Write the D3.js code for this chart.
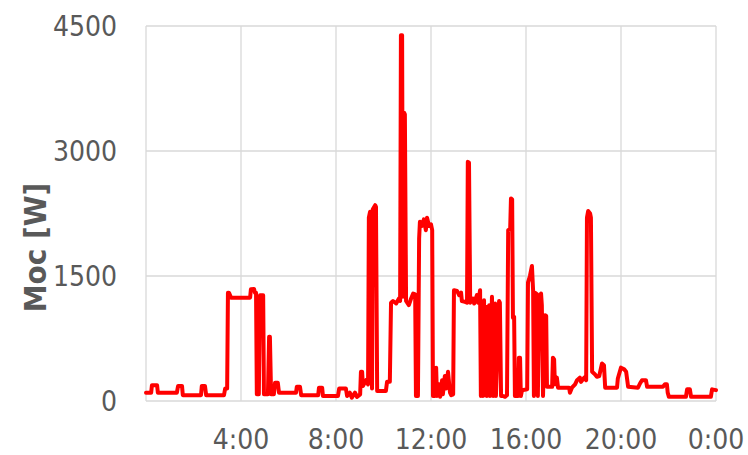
<!DOCTYPE html>
<html>
<head>
<meta charset="utf-8">
<script src="https://cdn.jsdelivr.net/npm/d3@7"></script>
<style>
  body { margin: 0; background: #fff; }
  svg text { font-family: 'DejaVu Sans Condensed', 'Liberation Sans', sans-serif; fill: #595959; }
</style>
</head>
<body>
<svg width="748" height="455"></svg>
<script>
// minutes since midnight
const minutes = [
  0, 13, 15, 28, 30, 78, 81, 91, 93, 139, 141, 149, 152, 197, 200, 205, 207, 210, 215,
  263, 265, 273, 275, 278, 280, 285, 288, 296, 298, 308, 311, 313, 316, 323, 326, 333,
  336, 379, 381, 389, 392, 435, 437, 445, 447, 480, 485, 488, 505, 508, 515, 520, 528,
  533, 541, 543, 546, 548, 556, 561, 563, 566, 568, 571, 573, 579, 581, 584, 606, 609,
  616, 619, 624, 632, 639, 642, 644, 647, 649, 652, 654, 657, 664, 669, 675, 680, 682,
  687, 690, 692, 697, 702, 707, 710, 715, 720, 723, 725, 730, 733, 735, 740, 743, 748,
  750, 755, 758, 763, 768, 771, 776, 778, 786, 791, 796, 798, 806, 811, 813, 816, 819,
  826, 829, 836, 839, 844, 846, 849, 851, 854, 856, 859, 861, 867, 869, 874, 877, 882,
  884, 892, 894, 897, 902, 907, 909, 912, 915, 920, 922, 925, 927, 930, 932, 940, 942,
  945, 947, 950, 963, 965, 970, 975, 978, 980, 983, 988, 990, 993, 998, 1000, 1003,
  1008, 1011, 1013, 1026, 1028, 1031, 1033, 1038, 1041, 1069, 1071, 1076, 1084, 1089,
  1096, 1099, 1107, 1112, 1114, 1117, 1122, 1124, 1127, 1134, 1139, 1145, 1152, 1157,
  1160, 1190, 1192, 1200, 1208, 1213, 1218, 1243, 1248, 1253, 1263, 1266, 1306, 1311,
  1316, 1318, 1321, 1364, 1367, 1374, 1377, 1427, 1430, 1440
]
const watts = [
  100, 100, 190, 190, 100, 100, 180, 180, 70, 70, 180, 180, 70, 70, 150, 150, 1300, 1296, 1240,
  1240, 1340, 1344, 1300, 1300, 80, 80, 1270, 1270, 80, 80, 770, 770, 80, 80, 220, 220,
  100, 100, 170, 170, 70, 70, 160, 160, 60, 60, 60, 150, 150, 60, 100, 40, 100,
  50, 80, 350, 350, 180, 250, 200, 2200, 2270, 2200, 150, 2300, 2350, 2330, 120, 120, 230,
  230, 1180, 1200, 1170, 1230, 1200, 4390, 4390, 1250, 3460, 3440, 1200, 1150, 1220, 1290, 1280, 60,
  60, 1950, 2150, 2100, 2180, 2050, 2200, 2100, 2120, 2050, 60, 60, 400, 60, 200, 50, 250,
  80, 300, 150, 350, 100, 70, 80, 1330, 1320, 1270, 1300, 1200, 1190, 1180, 2870, 2860, 1180,
  1230, 1170, 1270, 1180, 1330, 60, 1180, 60, 1210, 70, 1130, 60, 1150, 60, 1250, 60, 1170,
  60, 1200, 1180, 60, 60, 50, 60, 70, 2050, 2060, 2430, 2420, 1000, 1010, 60, 60, 520,
  520, 60, 130, 140, 1420, 1500, 1620, 1320, 60, 1300, 1280, 60, 1250, 1290, 1150, 60,
  1030, 1020, 170, 170, 520, 500, 200, 280, 160, 160, 100, 160, 200, 250,
  280, 230, 280, 250, 2200, 2280, 2250, 2200, 350, 320, 290, 300, 450, 430,
  160, 160, 270, 400, 380, 350, 170, 160, 210, 250, 250, 170, 170, 200,
  200, 100, 50, 50, 140, 140, 50, 50, 140, 130
]
const yTicks = [0, 1500, 3000, 4500]
const xTicks = [240, 480, 720, 960, 1200, 1440]
const xTickLabels = ['4:00', '8:00', '12:00', '16:00', '20:00', '0:00']
const yTitle = 'Moc [W]'

const svg = d3.select('svg')
const margin = { left: 146, right: 32, top: 26, bottom: 54 }
const width = 748, height = 455

const x = d3.scaleLinear().domain([0, 1440]).range([margin.left, width - margin.right])
const y = d3.scaleLinear().domain([0, 4500]).range([height - margin.bottom, margin.top])

// grid
const grid = svg.append('g').attr('stroke', '#d9d9d9').attr('stroke-width', 1.3)
grid.selectAll('.hg').data(yTicks).join('line')
  .attr('x1', x(0)).attr('x2', x(1440))
  .attr('y1', d => y(d)).attr('y2', d => y(d))
grid.selectAll('.vg').data([0, ...xTicks]).join('line')
  .attr('x1', d => x(d)).attr('x2', d => x(d))
  .attr('y1', y(0)).attr('y2', y(4500))

// series
const series = minutes.map((m, i) => [m, watts[i]])
svg.append('path')
  .datum(series)
  .attr('fill', 'none')
  .attr('stroke', '#ff0000')
  .attr('stroke-width', 4)
  .attr('stroke-linejoin', 'round')
  .attr('stroke-linecap', 'round')
  .attr('d', d3.line().x(d => x(d[0])).y(d => y(d[1])))

// axis labels
svg.append('g').selectAll('text').data(yTicks).join('text')
  .attr('x', 117)
  .attr('y', d => y(d) + 10)
  .attr('text-anchor', 'end')
  .attr('font-size', '28px')
  .text(d => d)

svg.append('g').selectAll('text').data(xTicks).join('text')
  .attr('x', d => x(d))
  .attr('y', 449)
  .attr('text-anchor', 'middle')
  .attr('font-size', '28px')
  .text((d, i) => xTickLabels[i])

// y title centred near y = 248 as in the picture
svg.append('text')
  .attr('transform', `translate(46, ${(y(0) + y(4500)) / 2 + 34}) rotate(-90)`)
  .attr('text-anchor', 'middle')
  .attr('font-size', '31px')
  .attr('font-weight', 'bold')
  .attr('font-family', 'DejaVu Sans, sans-serif')
  .text(yTitle)
</script>
</body>
</html>
